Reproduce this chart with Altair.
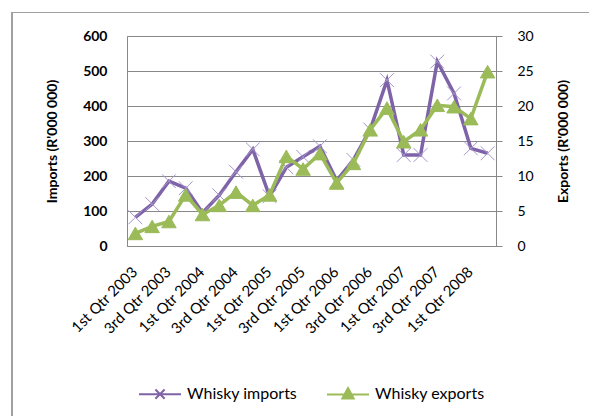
import altair as alt
import pandas as pd

quarters = [
    "1st Qtr 2003", "2nd Qtr 2003", "3rd Qtr 2003", "4th Qtr 2003",
    "1st Qtr 2004", "2nd Qtr 2004", "3rd Qtr 2004", "4th Qtr 2004",
    "1st Qtr 2005", "2nd Qtr 2005", "3rd Qtr 2005", "4th Qtr 2005",
    "1st Qtr 2006", "2nd Qtr 2006", "3rd Qtr 2006", "4th Qtr 2006",
    "1st Qtr 2007", "2nd Qtr 2007", "3rd Qtr 2007", "4th Qtr 2007",
    "1st Qtr 2008", "2nd Qtr 2008",
]
imports = [82, 120, 185, 165, 95, 145, 212, 276, 142, 225, 255, 285,
           187, 246, 333, 474, 260, 260, 527, 436, 279, 265]
exports = [1.8, 2.8, 3.5, 7.3, 4.5, 5.8, 7.7, 5.8, 7.3, 12.8, 11.0, 13.2,
           9.0, 11.8, 16.6, 19.7, 14.9, 16.6, 20.1, 19.9, 18.2, 24.9]
tick_labels = ["1st Qtr 2003", "3rd Qtr 2003", "1st Qtr 2004", "3rd Qtr 2004",
               "1st Qtr 2005", "3rd Qtr 2005", "1st Qtr 2006", "3rd Qtr 2006",
               "1st Qtr 2007", "3rd Qtr 2007", "1st Qtr 2008"]
series_names = ["Whisky imports", "Whisky exports"]
imports_ticks = [0, 100, 200, 300, 400, 500, 600]
exports_ticks = [0, 5, 10, 15, 20, 25, 30]

df = pd.DataFrame({"quarter": quarters, "imports": imports, "exports": exports})
legend_df = pd.DataFrame({"series": series_names})
frame_df = pd.DataFrame({"part": ["frame"]})

PURPLE = "#7F63A8"
PURPLE_LIGHT = "#A796CC"
GREEN = "#9BBB59"
GRID = "#888888"
FONT = "Lato"

x_enc = alt.X(
    "quarter:N",
    sort=quarters,
    scale=alt.Scale(type="point", padding=0.5),
    axis=alt.Axis(
        values=tick_labels, labelAngle=-45, title=None, ticks=False,
        tickOpacity=0, tickColor="transparent", tickWidth=0,
        domainColor=GRID, labelFont=FONT, labelFontSize=15, labelColor="#000000",
        labelPadding=18, labelOffset=-6, grid=False, gridOpacity=0,
        gridColor="transparent", gridWidth=0, labelOverlap=False,
    ),
)

y_imp = alt.Y(
    "imports:Q",
    scale=alt.Scale(domain=[0, 600], nice=False),
    axis=alt.Axis(
        values=imports_ticks, title="Imports (R'000 000)", grid=True, gridColor=GRID,
        domain=False, ticks=False, labelPadding=20, labelFont=FONT, labelFontSize=14,
        labelFontWeight="bold", labelColor="#000000", titleFont=FONT, titleFontSize=14,
        titleFontWeight="bold", titleColor="#000000", titleX=-75, titleY=105,
        titleBaseline="middle",
    ),
)

y_exp = alt.Y(
    "exports:Q",
    scale=alt.Scale(domain=[0, 30], nice=False),
    axis=alt.Axis(
        orient="right", values=exports_ticks, title="Exports (R'000 000)", grid=False,
        domain=True, domainColor=GRID, ticks=True, tickSize=6, tickColor=GRID,
        labelPadding=15, labelFont=FONT, labelFontSize=14, labelColor="#000000",
        titleFont=FONT, titleFontSize=14, titleFontWeight="bold", titleColor="#000000",
        titleAngle=270, titleX=67, titleY=105, titleBaseline="middle",
    ),
)

imp_line = alt.Chart(df).mark_line(color=PURPLE, strokeWidth=3.5).encode(x=x_enc, y=y_imp)
imp_pts = alt.Chart(df).mark_point(
    shape="M-1,-1L1,1M-1,1L1,-1", size=190, stroke=PURPLE_LIGHT, strokeWidth=1,
    filled=False, opacity=1,
).encode(x=x_enc, y=y_imp)
imports_layer = alt.layer(imp_line, imp_pts)

exp_line = alt.Chart(df).mark_line(color=GREEN, strokeWidth=3.5).encode(x=x_enc, y=y_exp)
exp_pts = alt.Chart(df).mark_point(
    shape="triangle-up", size=210, fill=GREEN, stroke=GREEN, strokeWidth=1,
    filled=True, opacity=1,
).encode(x=x_enc, y=y_exp)

legend_scale_fill = alt.Scale(domain=series_names, range=["transparent", GREEN])
legend_scale_stroke = alt.Scale(domain=series_names, range=[PURPLE, GREEN])
legend_scale_shape = alt.Scale(
    domain=series_names,
    range=[
        "M-1,0H1M-0.22,-0.22L0.22,0.22M-0.22,0.22L0.22,-0.22",
        "M-1,0H1M0,-0.3L0.27,0.2L-0.27,0.2Z",
    ],
)
legend_def = alt.Legend(
    title=None, orient="none", direction="horizontal", legendX=11, legendY=336,
    symbolSize=1764, symbolStrokeWidth=2, symbolOpacity=1, labelFont=FONT,
    labelFontSize=16, labelColor="#000000", labelOffset=5, columnPadding=25,
)
legend_layer = alt.Chart(legend_df).mark_point(filled=True, size=0).encode(
    fill=alt.Fill("series:N", scale=legend_scale_fill, legend=legend_def),
    stroke=alt.Stroke("series:N", scale=legend_scale_stroke, legend=legend_def),
    shape=alt.Shape("series:N", scale=legend_scale_shape, legend=legend_def),
).transform_filter("false")

exports_layer = alt.layer(exp_line, exp_pts, legend_layer)

border_left = alt.Chart(frame_df).mark_rect(color="#A0A0A0").encode(
    x=alt.value(-116), x2=alt.value(-114), y=alt.value(-24), y2=alt.value(380)
)
border_top = alt.Chart(frame_df).mark_rect(color="#A0A0A0").encode(
    x=alt.value(-116), x2=alt.value(470), y=alt.value(-24), y2=alt.value(-23)
)

chart = alt.layer(imports_layer, exports_layer, border_left, border_top).resolve_scale(
    y="independent"
).properties(
    width=369, height=210,
    autosize=alt.AutoSizeParams(type="none"),
    padding={"left": 127, "top": 36, "right": 93, "bottom": 170},
    background="white",
).configure_view(stroke=GRID, strokeWidth=1).configure_axisX(grid=False)

chart.save("out.html", embed_options={"renderer": "svg", "actions": False})
